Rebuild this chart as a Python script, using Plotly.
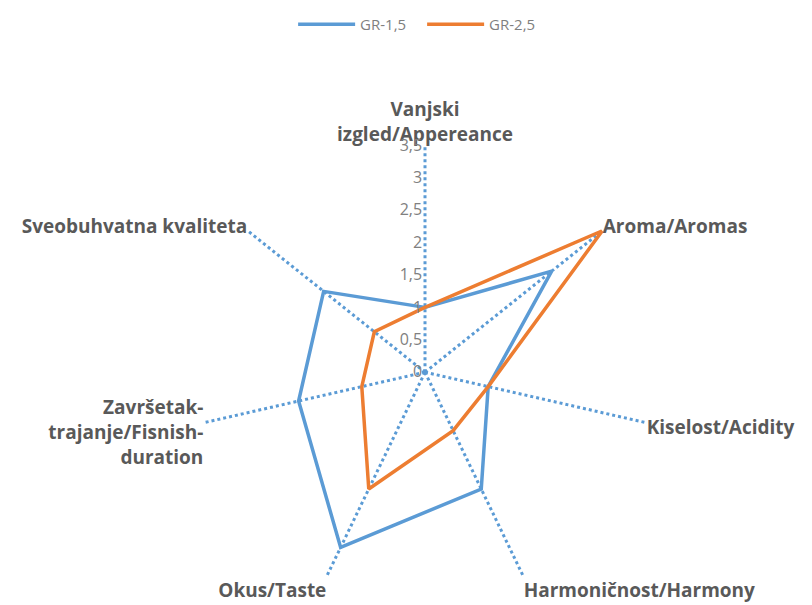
import plotly.graph_objects as go

categories = [
    "Vanjski<br>izgled/Appereance",
    "Aroma/Aromas",
    "Kiselost/Acidity",
    "Harmoničnost/Harmony",
    "Okus/Taste",
    "Završetak-<br>trajanje/Fisnish-<br>duration",
    "Sveobuhvatna kvaliteta",
]
gr15 = [1.0, 2.5, 1.0, 2.0, 3.0, 2.0, 2.0]
gr25 = [1.0, 3.5, 1.0, 1.0, 2.0, 1.0, 1.0]
series = [("GR-1,5", gr15, "#5B9BD5"), ("GR-2,5", gr25, "#ED7D31")]
radial_ticks = [0, 0.5, 1, 1.5, 2, 2.5, 3, 3.5]

W, H = 812, 605
CX, CY, R = 417, 363, 228  # page has an 8px body offset

fig = go.Figure()
for name, vals, color in series:
    fig.add_trace(go.Scatterpolar(
        r=vals + vals[:1],
        theta=categories + categories[:1],
        mode="lines",
        name=name,
        line=dict(color=color, width=3.5),
    ))

fig.update_layout(
    width=W, height=H,
    margin=dict(l=0, r=0, t=0, b=0),
    paper_bgcolor="white",
    separators=", ",
    font=dict(family="Open Sans", color="#595959"),
    legend=dict(orientation="h", x=0.51, xanchor="center", y=1.005, yanchor="top",
                font=dict(size=15, color="#7f7f7f"), itemwidth=57, entrywidth=57),
    polar=dict(
        domain=dict(x=[(CX - R) / W, (CX + R) / W], y=[(H - CY - R) / H, (H - CY + R) / H]),
        bgcolor="white",
        radialaxis=dict(
            range=[0, 3.5], tickvals=radial_ticks, angle=90, tickangle=90,
            side="counterclockwise", showgrid=False, showline=False,
            ticks="", tickfont=dict(size=16, color="#808080"),
        ),
        angularaxis=dict(
            direction="clockwise", rotation=90, showline=False,
            gridcolor="#5B9BD5", gridwidth=2.5, griddash="dot", ticks="",
            tickfont=dict(size=19, color="#595959", family="Open Sans", weight="bold"),
        ),
    ),
)
fig.write_html("out.html")
